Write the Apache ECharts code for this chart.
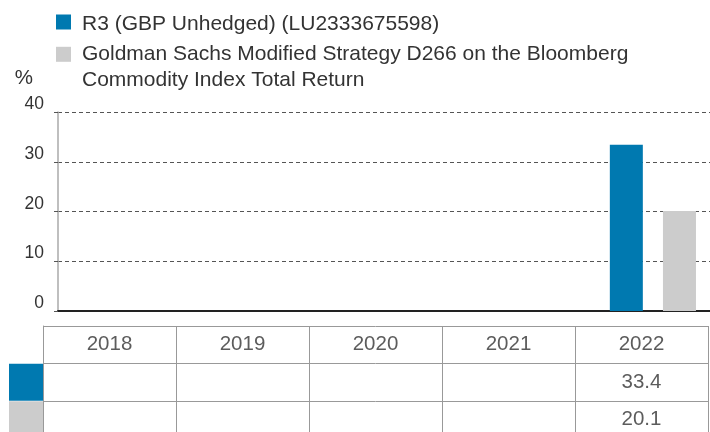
<!DOCTYPE html>
<html>
<head>
<meta charset="utf-8">
<script src="https://cdn.jsdelivr.net/npm/echarts@6/dist/echarts.min.js"></script>
<style>
  html, body { margin: 0; padding: 0; background: #fff; }
  #chart { width: 710px; height: 432px; }
</style>
</head>
<body>
<div id="chart"></div>
<script>
// chart data
var years = ["2018", "2019", "2020", "2021", "2022"];
var r3Values = [null, null, null, null, 33.4];
var gsValues = [null, null, null, null, 20.1];
var r3Name = "R3 (GBP Unhedged) (LU2333675598)";
var gsName = "Goldman Sachs Modified Strategy D266 on the Bloomberg Commodity Index Total Return";
// blank first line keeps the icon level with the first text line
var gsLegend = " \nGoldman Sachs Modified Strategy D266 on the Bloomberg\nCommodity Index Total Return";
var yMax = 40;
var yStep = 10;
var tableRows = ["year", "R3", "GS"];

var font = "'Liberation Sans', Arial, sans-serif";
var textColor = "#333";
var blue = "#0079b0";
var grey = "#cccccc";

// text cells of the table under the chart
var cells = [];
years.forEach(function (y, i) {
  cells.push({ value: [y, "year", y] });
  if (r3Values[i] != null) cells.push({ value: [y, "R3", r3Values[i].toFixed(1)] });
  if (gsValues[i] != null) cells.push({ value: [y, "GS", gsValues[i].toFixed(1)] });
});

var myChart = echarts.init(document.getElementById("chart"));
var option = {
  animation: false,
  textStyle: { fontFamily: font },
  legend: [
    {
      data: [r3Name],
      left: 56,
      top: 9,
      padding: 0,
      icon: "rect",
      itemWidth: 15,
      itemHeight: 15,
      selectedMode: false,
      formatter: function (n) { return "{a|" + n + "}"; },
      textStyle: {
        fontFamily: font, fontSize: 21, color: textColor, lineHeight: 26, padding: [0, 0, 0, 6],
        rich: { a: { fontFamily: font, fontSize: 21, color: textColor, lineHeight: 26, padding: [5, 0, 0, 0] } }
      }
    },
    {
      data: [gsName],
      left: 56,
      top: 15.3,
      padding: 0,
      icon: "rect",
      itemWidth: 15,
      itemHeight: 15,
      selectedMode: false,
      formatter: function () { return gsLegend; },
      textStyle: { fontFamily: font, fontSize: 21, color: textColor, lineHeight: 26, padding: [0, 0, 0, 6] }
    }
  ],
  grid: [
    { left: 58, top: 112, width: 661, height: 199, outerBoundsMode: "none" },
    { left: 43, top: 326, width: 665, height: 112.5, outerBoundsMode: "none" }
  ],
  xAxis: [
    {
      type: "category",
      data: years,
      gridIndex: 0,
      axisLine: { lineStyle: { color: "#222", width: 2 } },
      axisTick: { show: false },
      axisLabel: { show: false }
    },
    {
      type: "category",
      data: years,
      gridIndex: 1,
      axisLine: { show: false },
      axisTick: { show: false },
      axisLabel: { show: false },
      splitLine: { show: true, interval: 0, lineStyle: { color: "#999", width: 1 } }
    }
  ],
  yAxis: [
    {
      type: "value",
      gridIndex: 0,
      min: 0,
      max: yMax,
      interval: yStep,
      name: "%",
      nameLocation: "end",
      nameGap: 34,
      nameTextStyle: { fontFamily: font, fontSize: 20.5, color: textColor, align: "right", verticalAlign: "middle", padding: [0, 25, 0, 0] },
      axisLine: { show: true, lineStyle: { color: "#aaa", width: 1.5 } },
      axisTick: { show: true, length: 4, lineStyle: { color: "#555" } },
      axisLabel: { fontFamily: font, fontSize: 17.5, color: textColor, margin: 14, verticalAlign: "bottom", lineHeight: 15.5 },
      splitLine: { lineStyle: { color: "#555", type: [4, 3], width: 1 } }
    },
    {
      type: "category",
      data: tableRows,
      gridIndex: 1,
      inverse: true,
      axisLine: { show: true, lineStyle: { color: "#999", width: 1 } },
      axisTick: { show: false },
      splitLine: { show: true, interval: 0, lineStyle: { color: "#999", width: 1 } },
      axisLabel: {
        margin: 0,
        interval: 0,
        formatter: function (v) {
          if (v == "R3") return "{r3| }";
          if (v == "GS") return "{gs| }";
          return "";
        },
        rich: {
          r3: { backgroundColor: blue, width: 34, height: 37 },
          gs: { backgroundColor: grey, width: 34, height: 37 }
        }
      }
    }
  ],
  series: [
    {
      name: r3Name,
      type: "bar",
      xAxisIndex: 0,
      yAxisIndex: 0,
      barWidth: 33,
      barGap: "61%",
      itemStyle: { color: blue },
      data: r3Values
    },
    {
      name: gsName,
      type: "bar",
      xAxisIndex: 0,
      yAxisIndex: 0,
      barWidth: 33,
      barGap: "61%",
      itemStyle: { color: grey },
      data: gsValues
    },
    {
      type: "scatter",
      xAxisIndex: 1,
      yAxisIndex: 1,
      symbolSize: 1,
      silent: true,
      itemStyle: { color: "rgba(0,0,0,0)" },
      label: {
        show: true,
        position: "inside",
        fontFamily: font,
        fontSize: 20.5,
        color: textColor,
        formatter: function (p) { return p.value[2]; }
      },
      data: cells
    }
  ]
};
myChart.setOption(option);
</script>
</body>
</html>
